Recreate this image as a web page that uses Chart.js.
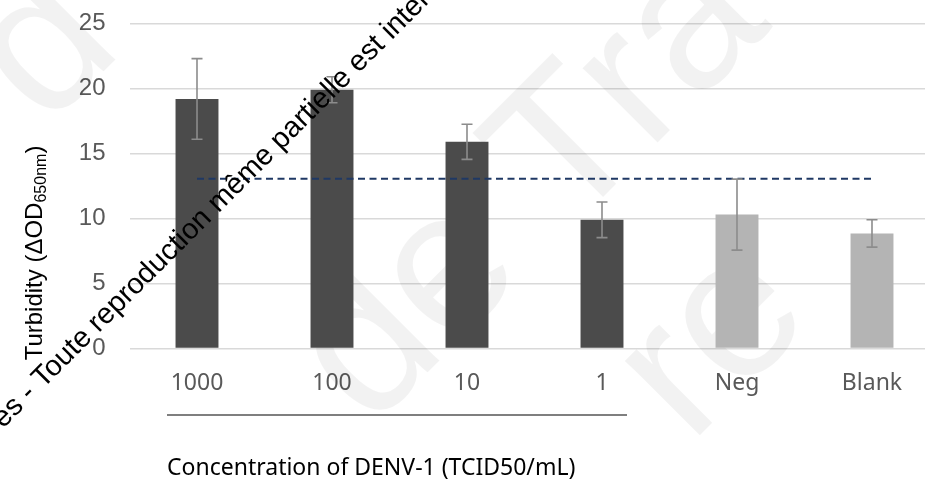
<!DOCTYPE html>
<html>
<head>
<meta charset="utf-8">
<script src="https://cdn.jsdelivr.net/npm/chart.js@4.4.1/dist/chart.umd.min.js"></script>
<style>
  html, body { margin: 0; padding: 0; background: #fff; overflow: hidden; }
  #wrap { width: 925px; height: 480px; overflow: hidden; position: relative; }
  canvas { display: block; }
</style>
</head>
<body>
<div id="wrap"><canvas id="turbChart" width="945" height="480"></canvas></div>
<script>
// valeurs
const categories = ['1000', '100', '10', '1', 'Neg', 'Blank'];
const turbidity = [19.2, 19.9, 15.9, 9.9, 10.3, 8.85];
const errorSd = [3.1, 1.0, 1.35, 1.37, 2.73, 1.05];
const cutoff = [13.05, 13.05, 13.05, 13.05, 13.05, 13.05];
const sampleGroup = ['virus', 'virus', 'virus', 'virus', 'control', 'control'];
const yTicks = [0, 5, 10, 15, 20, 25];

const DARK = '#4b4b4b';
const LIGHT = '#b4b4b4';
const TICK_GREY = '#595959';

// barres d'erreur (écart type)
const errorBars = {
  id: 'errorBars',
  afterDatasetsDraw(chart) {
    const meta = chart.getDatasetMeta(0);
    const y = chart.scales.y;
    const ctx = chart.ctx;
    ctx.save();
    ctx.strokeStyle = '#8c8c8c';
    ctx.lineWidth = 1.6;
    meta.data.forEach((bar, i) => {
      const hi = y.getPixelForValue(turbidity[i] + errorSd[i]);
      const lo = y.getPixelForValue(turbidity[i] - errorSd[i]);
      ctx.beginPath();
      ctx.moveTo(bar.x, hi); ctx.lineTo(bar.x, lo);
      ctx.moveTo(bar.x - 5.5, hi); ctx.lineTo(bar.x + 5.5, hi);
      ctx.moveTo(bar.x - 5.5, lo); ctx.lineTo(bar.x + 5.5, lo);
      ctx.stroke();
    });
    ctx.restore();
  },
};

// grand filigrane pâle
const faintMark = {
  id: 'faintMark',
  beforeDatasetsDraw(chart) {
    const ctx = chart.ctx;
    const runs = [['d', 46, 129], ['de Tra', 370, 430], ['re', 690, 445]];
    runs.forEach(([txt, px, py]) => {
      ctx.save();
      ctx.fillStyle = 'rgba(0,0,0,0.05)';
      ctx.font = '200px "Liberation Sans"';
      ctx.translate(px, py);
      ctx.rotate(-Math.PI / 4);
      ctx.fillText(txt, 0, 0);
      ctx.restore();
    });
  },
};

// titres d'axes, trait sous les dilutions, filigrane
const decorations = {
  id: 'decorations',
  afterDraw(chart) {
    const ctx = chart.ctx;
    const x = chart.scales.x;

    // trait sous 1000 .. 1
    const x0 = x.getPixelForValue(0) - 30;
    const x1 = x.getPixelForValue(3) + 25;
    ctx.save();
    ctx.strokeStyle = '#555';
    ctx.lineWidth = 1.6;
    ctx.beginPath();
    ctx.moveTo(x0, 415); ctx.lineTo(x1, 415);
    ctx.stroke();

    // titre X
    ctx.fillStyle = '#000';
    ctx.font = '23px "Noto Sans"';
    ctx.textAlign = 'left';
    ctx.textBaseline = 'middle';
    ctx.fillText('Concentration of DENV-1 (TCID50/mL)', x0, 468);

    // titre Y avec indice
    const main = 'Turbidity (\u0394OD';
    const sub = '650nm';
    ctx.translate(42, 253);
    ctx.rotate(-Math.PI / 2);
    ctx.textBaseline = 'alphabetic';
    ctx.font = '24px "Liberation Sans"';
    const wMain = ctx.measureText(main).width;
    const wClose = ctx.measureText(')').width;
    ctx.font = '16px "Liberation Sans"';
    const wSub = ctx.measureText(sub).width;
    let cx = -(wMain + wSub + wClose) / 2;
    ctx.font = '24px "Liberation Sans"';
    ctx.fillText(main, cx, 0);
    cx += wMain;
    ctx.font = '16px "Liberation Sans"';
    ctx.fillText(sub, cx, 4);
    cx += wSub;
    ctx.font = '24px "Liberation Sans"';
    ctx.fillText(')', cx, 0);
    ctx.restore();

    // filigrane diagonal
    ctx.save();
    ctx.translate(3, 429);
    ctx.rotate(-Math.PI / 4);
    ctx.font = '29px "Liberation Sans"';
    ctx.fillStyle = '#000';
    ctx.textBaseline = 'alphabetic';
    ctx.fillText('es - Toute reproduction même partielle est interdite', 0, 0);
    ctx.restore();
  },
};

new Chart(document.getElementById('turbChart'), {
  data: {
    labels: categories,
    datasets: [
      {
        type: 'bar',
        order: 1,
        data: turbidity,
        backgroundColor: sampleGroup.map((g) => (g === 'virus' ? DARK : LIGHT)),
        borderWidth: 0,
        categoryPercentage: 1,
        barPercentage: 0.318,
      },
      {
        type: 'line',
        order: 0,
        data: cutoff,
        borderColor: '#1f3864',
        borderWidth: 2,
        borderDash: [7, 4.5],
        pointRadius: 0,
        fill: false,
      },
    ],
  },
  options: {
    responsive: false,
    animation: false,
    devicePixelRatio: 1,
    layout: { padding: { top: 23.5, right: 5.5, left: 0, bottom: 0 } },
    plugins: { legend: { display: false }, tooltip: { enabled: false } },
    scales: {
      x: {
        offset: true,
        grid: { display: false, drawTicks: false },
        border: { display: false },
        ticks: { color: TICK_GREY, font: { family: 'Noto Sans', size: 23 }, padding: 21 },
        afterFit: (s) => { s.height = 131.5; },
      },
      y: {
        min: yTicks[0],
        max: yTicks[yTicks.length - 1],
        ticks: {
          stepSize: yTicks[1] - yTicks[0],
          color: TICK_GREY,
          font: { family: 'Liberation Sans', size: 24 },
          padding: 24,
        },
        grid: { color: '#d9d9d9', lineWidth: 1.5, drawTicks: false },
        border: { display: false },
        afterFit: (s) => { s.width = 129.5; s.paddingTop = 0; s.paddingBottom = 0; },
      },
    },
  },
  plugins: [faintMark, errorBars, decorations],
});
</script>
</body>
</html>
